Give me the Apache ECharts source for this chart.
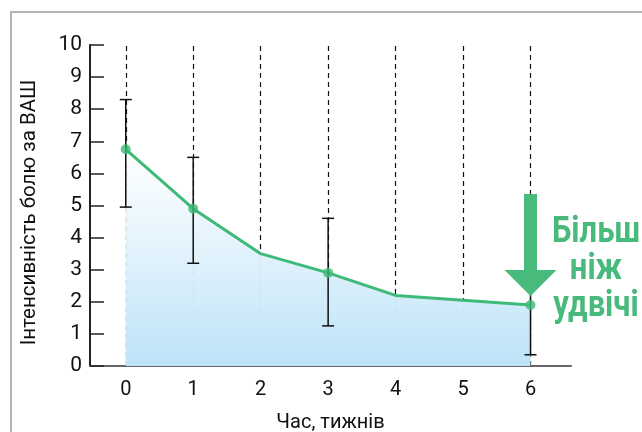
<!DOCTYPE html>
<html>
<head>
<meta charset="utf-8">
<script src="https://cdn.jsdelivr.net/npm/echarts@6/dist/echarts.min.js"></script>
<style>html,body{margin:0;padding:0;background:#fff}#c{width:642px;height:432px}</style>
</head>
<body>
<div id="c"></div>
<script>
const xTicks = [0, 1, 2, 3, 4, 5, 6];
const yTicks = [0, 1, 2, 3, 4, 5, 6, 7, 8, 9, 10];
const weeks = [0, 1, 2, 3, 4, 6];
const vasMean = [6.75, 4.9, 3.5, 2.9, 2.2, 1.9];
const markerWeeks = [0, 1, 3, 6];
const errWeeks = [0, 1, 3, 6];
const errLow = [4.95, 3.2, 1.25, 0.35];
const errHigh = [8.3, 6.5, 4.6, 3.4];
const noteLines = ['Більш', 'ніж', 'удвічі'];
const xName = 'Час, тижнів';
const yName = 'Інтенсивність болю за ВАШ';

const green = '#3dba78';
const arrowGreen = '#47ba7c';
const font = 'Roboto';

const lineData = weeks.map((w, i) => [w, vasMean[i]]);
const markerData = markerWeeks.map(w => [w, vasMean[weeks.indexOf(w)]]);
const errData = errWeeks.map((w, i) => [w, errLow[i], errHigh[i]]);

const chart = echarts.init(document.getElementById('c'), null, {renderer: 'canvas'});

const option = {
  animation: false,
  backgroundColor: '#fff',
  grid: {left: 90, right: 71, top: 45, bottom: 66, containLabel: false, outerBoundsMode: 'none'},
  xAxis: {
    type: 'value',
    min: -0.53,
    max: 6.6,
    name: xName,
    nameLocation: 'middle',
    nameGap: 47,
    nameTextStyle: {fontFamily: font, fontSize: 20, color: '#111'},
    axisLine: {show: true, onZero: false, lineStyle: {color: '#666', width: 2}},
    axisTick: {show: false},
    splitLine: {show: false},
    axisLabel: {
      customValues: xTicks,
      fontFamily: font, fontSize: 20, color: '#111', margin: 14
    }
  },
  yAxis: {
    type: 'value',
    min: 0,
    max: 10,
    interval: 1,
    name: yName,
    nameLocation: 'middle',
    nameGap: 50,
    nameTextStyle: {fontFamily: font, fontSize: 20.5, color: '#111', padding: [0, 14, 0, 0]},
    axisLine: {show: true, onZero: false, lineStyle: {color: '#222', width: 2}},
    axisTick: {show: true, inside: true, length: 14, lineStyle: {color: '#222', width: 1.5}},
    splitLine: {show: false},
    axisLabel: {fontFamily: font, fontSize: 21, color: '#111', margin: 8}
  },
  series: [
    {
      type: 'line',
      data: lineData,
      showSymbol: false,
      symbol: 'none',
      lineStyle: {color: green, width: 3},
      areaStyle: {
        color: new echarts.graphic.LinearGradient(0, 0, 0, 1, [
          {offset: 0, color: 'rgba(255,255,255,0.9)'},
          {offset: 1, color: '#bde3f8'}
        ]),
        opacity: 1
      },
      z: 2,
      markLine: {
        silent: true,
        symbol: 'none',
        label: {show: false},
        lineStyle: {color: '#111', type: [5, 4], width: 1.2},
        data: xTicks.map(v => ({xAxis: v})),
        z: 1
      }
    },
    {
      type: 'custom',
      data: errData,
      z: 3,
      renderItem: function (params, api) {
        const x = api.value(0);
        const lo = api.coord([x, api.value(1)]);
        const hi = api.coord([x, api.value(2)]);
        const cap = 6;
        const st = {stroke: '#111', lineWidth: 1.5};
        return {
          type: 'group',
          children: [
            {type: 'line', shape: {x1: lo[0], y1: lo[1], x2: hi[0], y2: hi[1]}, style: st},
            {type: 'line', shape: {x1: lo[0] - cap, y1: lo[1], x2: lo[0] + cap, y2: lo[1]}, style: st},
            {type: 'line', shape: {x1: hi[0] - cap, y1: hi[1], x2: hi[0] + cap, y2: hi[1]}, style: st}
          ]
        };
      }
    },
    {
      type: 'scatter',
      data: markerData,
      symbol: 'circle',
      symbolSize: 10,
      itemStyle: {color: green},
      z: 4
    }
  ]
};
chart.setOption(option);

// annotation arrow and note placed relative to the last data point
const lastPt = chart.convertToPixel({gridIndex: 0}, [6, vasMean[vasMean.length - 1]]);
const tipX = lastPt[0];
const tipY = lastPt[1] - 9;
const headH = 26, headW = 52, shaftW = 13, shaftH = 76;
const arrowPts = [
  [tipX, tipY],
  [tipX - headW / 2, tipY - headH],
  [tipX - shaftW / 2, tipY - headH],
  [tipX - shaftW / 2, tipY - headH - shaftH],
  [tipX + shaftW / 2, tipY - headH - shaftH],
  [tipX + shaftW / 2, tipY - headH],
  [tipX + headW / 2, tipY - headH]
];

chart.setOption({
  graphic: [
    {
      type: 'polyline',
      shape: {points: [[11, 432], [11, 12], [642, 12]]},
      style: {stroke: '#b3b3b3', lineWidth: 2, fill: null},
      silent: true, z: 0
    },
    {
      type: 'polygon',
      shape: {points: arrowPts},
      style: {fill: arrowGreen},
      z: 10
    },
    {
      type: 'group',
      x: 596, y: 251,
      scaleX: 0.86,
      z: 10,
      children: noteLines.map((t, i) => ({
        type: 'text',
        x: 0, y: i * 37,
        style: {
          text: t, fill: arrowGreen, font: 'bold 36px Roboto',
          textAlign: 'center', textVerticalAlign: 'bottom'
        }
      }))
    }
  ]
});
</script>
</body>
</html>
